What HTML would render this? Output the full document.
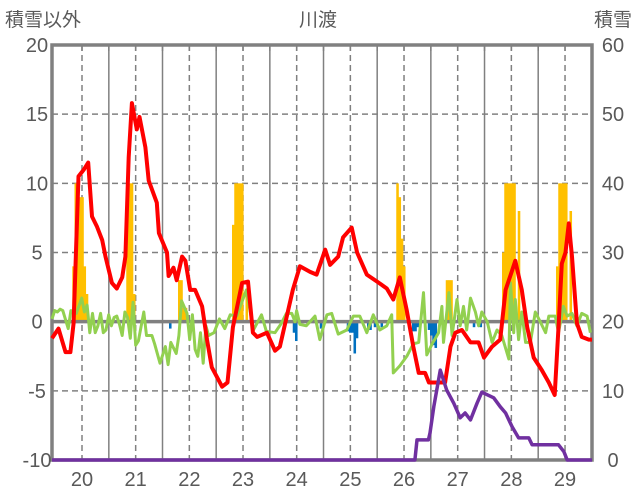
<!DOCTYPE html>
<html><head><meta charset="utf-8">
<style>
html,body{margin:0;padding:0;background:#fff;}
svg{display:block;font-family:"Liberation Sans","Noto Sans CJK JP",sans-serif;}
</style></head>
<body>
<svg id="chart" width="636" height="501" viewBox="0 0 636 501" xmlns="http://www.w3.org/2000/svg">
<text x="5" y="26" font-size="19" fill="#595959">積雪以外</text>
<text x="318" y="26" font-size="19" fill="#595959" text-anchor="middle">川渡</text>
<text x="632" y="26" font-size="19" fill="#595959" text-anchor="end">積雪</text>
<g id="grid"></g>
<g id="bars"></g>
<g id="axes"></g>
<g id="lines"></g>
</svg>
<script>
// ---- data ----
const dayLabels = ["20","21","22","23","24","25","26","27","28","29"];
const leftTicks = [20,15,10,5,0,-5,-10];
const rightTicks = [60,50,40,30,20,10,0];
const redT = [0,0.12,0.25,0.34,0.4,0.49,0.59,0.67,0.74,0.83,0.93,0.99,1.11,1.2,1.3,1.36,1.42,1.48,1.57,1.62,1.73,1.79,1.94,1.98,2.13,2.16,2.25,2.31,2.41,2.47,2.56,2.65,2.78,2.87,2.96,3.15,3.25,3.35,3.52,3.63,3.72,3.8,3.98,4.13,4.22,4.46,4.59,4.78,4.9,5.06,5.15,5.3,5.39,5.55,5.65,5.83,6.02,6.2,6.32,6.44,6.57,6.69,6.79,6.91,6.98,7.28,7.38,7.47,7.59,7.75,7.9,8.0,8.15,8.3,8.4,8.52,8.58,8.7,8.8,8.92,9.07,9.2,9.31,9.38,9.44,9.51,9.57,9.63,9.72,9.81,9.94,10];
const redV = [-1.2,-0.5,-2.2,-2.2,-0.1,10.5,11,11.5,7.6,6.9,5.9,4.7,2.8,2.4,3.2,4.7,11.9,15.8,13.9,14.8,12.6,10.2,8.6,6.4,5,3.3,3.9,3,4.7,4.4,2.3,2.3,1.1,-1.3,-3.3,-4.7,-4.4,-0.4,2.8,2.9,-0.8,-1.1,-0.8,-2.1,-1.8,2.3,4,3.6,3.4,5.2,4.1,4.7,6.1,6.8,5,3.4,2.9,2.4,1.6,3.2,0.8,-1.8,-3.7,-3.7,-4.4,-4.4,-1.8,-0.8,-0.6,-1.5,-1.5,-2.6,-1.8,-1.3,2.3,3.7,4.4,2.3,-0.4,-2.6,-3.5,-4.4,-5.3,-0.4,4.2,5,7.1,4.7,-0.1,-1.1,-1.3,-1.3];
const greenT = [0,0.05,0.1,0.15,0.2,0.3,0.35,0.45,0.55,0.6,0.65,0.7,0.75,0.8,0.85,0.9,0.95,1.0,1.05,1.1,1.15,1.2,1.25,1.3,1.35,1.4,1.45,1.5,1.55,1.6,1.7,1.75,1.85,1.9,2.0,2.1,2.15,2.2,2.3,2.35,2.4,2.5,2.55,2.6,2.65,2.7,2.75,2.8,2.85,2.9,3.0,3.1,3.2,3.3,3.42,3.6,3.73,3.88,3.97,4.13,4.25,4.34,4.44,4.5,4.53,4.59,4.71,4.87,4.96,5.09,5.18,5.3,5.46,5.58,5.7,5.83,5.95,6.07,6.2,6.29,6.32,6.44,6.57,6.69,6.79,6.88,6.94,7.04,7.16,7.22,7.25,7.35,7.41,7.5,7.56,7.62,7.68,7.75,7.84,7.9,7.96,8.06,8.15,8.24,8.33,8.46,8.49,8.55,8.58,8.64,8.7,8.77,8.86,8.95,9.04,9.14,9.2,9.32,9.38,9.47,9.54,9.63,9.72,9.81,9.91,9.97];
const greenV = [0.2,0.8,0.7,0.9,0.8,-0.5,0.8,0.6,1.7,0.7,1.2,-0.8,0.6,-0.8,-0.3,0.6,-0.8,-0.6,0.5,-0.3,0.3,0.4,-0.2,-1,0.7,0.3,-1.2,1.4,-1.7,-1.4,0.7,-1.0,-1.0,-1.6,-3,-1.8,-3.1,-1.5,-2.3,-1.0,1.5,0.6,-1.3,0.5,-2.0,-2.5,-0.8,-3.0,-0.3,-1.0,-0.8,0.2,-0.5,0.5,0.4,2.3,-0.6,0.5,-0.7,-0.8,-0.1,0.6,0.6,0,0.8,-0.2,-0.3,0.4,-1.3,0.5,0.6,-0.9,-0.6,0.4,0.4,-0.8,0.5,-0.6,-0.3,0.5,-3.7,-3.2,-2.5,-1.6,-1.5,2.1,-2.4,-1.6,-0.8,1.1,-1.5,2.1,-1,1.6,-0.3,1.1,-0.6,1.7,0.7,-0.3,0.7,0,-1.5,-0.6,-1,-2.7,2.8,-0.8,1.6,-1.3,0.7,-1.5,-1.5,0.7,0,-0.8,0.4,0.4,-0.8,1.1,0.4,0.6,-0.3,0.6,0.4,-0.8];
const snowT = [0,6.72,6.76,6.97,7.0,7.07,7.19,7.31,7.44,7.56,7.65,7.75,7.87,7.96,8.18,8.3,8.4,8.52,8.64,8.83,8.89,9.38,9.48,9.54,10];
const snowV = [0,0,2.9,2.9,3.9,7.7,13,10.1,8.2,6.1,6.8,5.8,8.2,9.8,9,7.7,6.8,4.8,3.2,3.2,2.2,2.2,1.2,0,0];
const precipHour = [9,10,11,12,13,14,15,33,34,35,36,56,57,58,59,80,81,82,83,84,86,153,154,155,156,175,176,177,200,201,202,203,204,205,207,224,225,226,227,228,230];
const precipVal = [4,10,10,9,9,4,2,10,10,10,2,3,3,1,1,7,10,10,10,10,2,10,9,6,4,3,3,3,5,10,10,10,10,10,8,4,10,10,10,10,8];
const negHour = [52,107,108,119,131,132,133,134,135,140,141,143,146,160,161,162,167,168,169,170,187,190];
const negVal = [-0.5,-0.8,-1.4,-0.5,-0.7,-0.8,-0.8,-2.3,-1.2,-0.5,-0.6,-0.4,-0.4,-0.7,-0.7,-0.4,-0.6,-1,-1.7,-1.9,-0.4,-0.4];

// ---- geometry ----
const X0=52, X1=592, Y0=45, Y1=460;
const xScale = t => X0 + t*(X1-X0)/10;
// category axis: day index d -> pixel center of label
const dayX = d => 82 + d*53.67;
const yL = v => Y0 + (20 - v)*(Y1-Y0)/30;
const yR = v => Y0 + (60 - v)*(Y1-Y0)/60;
const NS="http://www.w3.org/2000/svg";
function mk(tag, attrs, parent){const e=document.createElementNS(NS,tag);for(const k in attrs)e.setAttribute(k,attrs[k]);parent.appendChild(e);return e;}
const grid=document.getElementById('grid'), bars=document.getElementById('bars'), lines=document.getElementById('lines'), axes=document.getElementById('axes');

leftTicks.forEach(v=>{
  if(v===20||v===-10||v===0) return;
  const l=mk('line',{x1:X0,x2:X1,y1:yL(v),y2:yL(v),stroke:'#808080','stroke-width':1.5,'stroke-dasharray':'6,4'},grid);
  
  
});
for(let d=0; d<10; d++){
  const xs=dayX(d);
  const l=mk('line',{x1:xs,x2:xs,y1:Y0,y2:Y1,stroke:'#808080','stroke-width':1.5,'stroke-dasharray':'6,4'},grid);
  
  
  const xm=dayX(d+0.5);
  if(xm<X1-3){
    const m=mk('line',{x1:xm,x2:xm,y1:Y0,y2:Y1,stroke:'#808080','stroke-width':1.5},grid);
    
    
  }
}
const bw=(X1-X0)/240;
precipHour.forEach((h,i)=>{
  const v=precipVal[i];
  const r=mk('rect',{x:xScale(h/24),y:yL(v),width:bw+0.3,height:yL(0)-yL(v),fill:'#FFC000'},bars);
  
  
});
negHour.forEach((h,i)=>{
  const v=negVal[i];
  const r=mk('rect',{x:xScale(h/24),y:yL(0),width:bw+0.3,height:yL(v)-yL(0),fill:'#0070C0'},bars);
  
  
});

// axes
const z=mk('line',{x1:X0,x2:X1,y1:yL(0),y2:yL(0),stroke:'#808080','stroke-width':3.5},axes);


const frame=mk('rect',{x:X0,y:Y0,width:X1-X0,height:Y1-Y0,fill:'none',stroke:'#808080','stroke-width':3.5},axes);


for(let k=0;k<20;k++){
  const xt=dayX(k/2);
  if(xt>X1-3) continue;
  const tk=mk('line',{x1:xt,x2:xt,y1:Y0,y2:Y0+6,stroke:'#808080','stroke-width':1.5},axes);
  
  
}
leftTicks.forEach(v=>{
  const t=mk('text',{x:37,y:yL(v)+7,'font-size':20,fill:'#595959','text-anchor':'middle'},axes);
  t.textContent=String(v);
  
  
});
rightTicks.forEach(v=>{
  const t=mk('text',{x:613,y:yR(v)+7,'font-size':20,fill:'#595959','text-anchor':'middle'},axes);
  t.textContent=String(v);
  
  
});
dayLabels.forEach((s,i)=>{
  const t=mk('text',{x:dayX(i),y:486,'font-size':20,fill:'#595959','text-anchor':'middle'},axes);
  t.textContent=s;
  
  
});

// lines (drawn over axes)
function path(T,V,yf){return T.map((t,i)=>(i?'L':'M')+xScale(t).toFixed(1)+','+yf(V[i]).toFixed(1)).join(' ');}
const g=mk('path',{d:path(greenT,greenV,yL),fill:'none',stroke:'#92D050','stroke-width':3,'stroke-linejoin':'round'},lines);


const r=mk('path',{d:path(redT,redV,yL),fill:'none',stroke:'#FF0000','stroke-width':4,'stroke-linejoin':'round'},lines);


const p=mk('path',{d:path(snowT,snowV,yR),fill:'none',stroke:'#7030A0','stroke-width':3.5,'stroke-linejoin':'round'},lines);


</script>
</body></html>
